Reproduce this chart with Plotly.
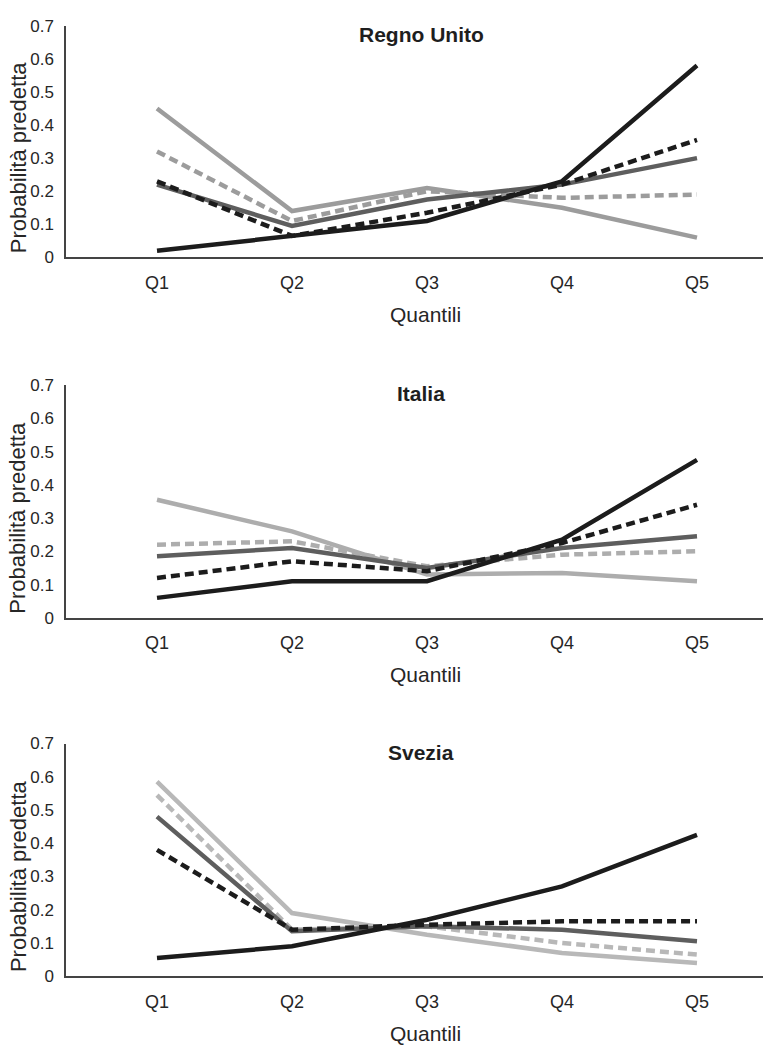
import plotly.graph_objects as go

# Quantile categories shared by all panels
quantili = ["Q1", "Q2", "Q3", "Q4", "Q5"]
y_ticks = [0, 0.1, 0.2, 0.3, 0.4, 0.5, 0.6, 0.7]
y_tick_text = ["0", "0.1", "0.2", "0.3", "0.4", "0.5", "0.6", "0.7"]

paesi = ["Regno Unito", "Italia", "Svezia"]

# Predicted probabilities, five series per country
regno_unito_a = [0.45, 0.14, 0.21, 0.15, 0.06]
regno_unito_b = [0.32, 0.11, 0.20, 0.18, 0.19]
regno_unito_c = [0.22, 0.095, 0.175, 0.22, 0.30]
regno_unito_d = [0.23, 0.065, 0.135, 0.22, 0.355]
regno_unito_e = [0.02, 0.065, 0.11, 0.23, 0.58]

italia_a = [0.355, 0.26, 0.13, 0.135, 0.11]
italia_b = [0.22, 0.23, 0.155, 0.19, 0.20]
italia_c = [0.185, 0.21, 0.15, 0.21, 0.245]
italia_d = [0.12, 0.17, 0.14, 0.225, 0.34]
italia_e = [0.06, 0.11, 0.11, 0.235, 0.475]

svezia_a = [0.585, 0.19, 0.125, 0.07, 0.04]
svezia_b = [0.545, 0.14, 0.15, 0.10, 0.065]
svezia_c = [0.48, 0.135, 0.15, 0.14, 0.105]
svezia_d = [0.38, 0.14, 0.155, 0.165, 0.165]
svezia_e = [0.055, 0.09, 0.17, 0.27, 0.425]

dati = [
    [regno_unito_a, regno_unito_b, regno_unito_c, regno_unito_d, regno_unito_e],
    [italia_a, italia_b, italia_c, italia_d, italia_e],
    [svezia_a, svezia_b, svezia_c, svezia_d, svezia_e],
]

W, H = 763, 1053
FONT = "Liberation Sans, Arial, sans-serif"

# Pixel geometry of each panel: (y of 0.7, y of 0)
pannelli_px = [(17, 253), (383, 620), (748, 985)]
x_left_px = 66
x_q1_px, x_step_px = 157, 135

chiari = ["#9c9c9c", "#adadad", "#b8b8b8"]
trattini = ["solid", "9px,5px", "solid", "9px,5px", "solid"]

fig = go.Figure()
x_idx = list(range(len(quantili)))

for p, (serie, (top, bot)) in enumerate(zip(dati, pannelli_px)):
    sfx = "" if p == 0 else str(p + 1)
    colori = [chiari[p], chiari[p], "#5e5e5e", "#1c1c1c", "#1c1c1c"]
    for s, valori in enumerate(serie):
        fig.add_trace(go.Scatter(
            x=x_idx, y=valori, mode="lines",
            line=dict(color=colori[s], width=4.5, dash=trattini[s]),
            xaxis="x" + sfx, yaxis="y" + sfx, showlegend=False,
            hoverinfo="skip",
        ))

    dom_y = [1 - bot / H, 1 - top / H]
    x_rng = [(x_left_px - x_q1_px) / x_step_px, (W - x_q1_px) / x_step_px]
    fig.layout["xaxis" + sfx] = dict(
        domain=[x_left_px / W, 1], range=x_rng, anchor="y" + sfx,
        tickvals=x_idx, ticktext=quantili, showgrid=False, zeroline=False,
        showline=True, linecolor="#444444", linewidth=1.5, ticks="",
        tickfont=dict(family=FONT, size=18, color="#262626"),
        ticklabelstandoff=8, fixedrange=True,
    )
    fig.layout["yaxis" + sfx] = dict(
        domain=dom_y, range=[0, 0.7], anchor="x" + sfx,
        tickvals=y_ticks, ticktext=y_tick_text, showgrid=False, zeroline=False,
        showline=True, linecolor="#444444", linewidth=1.5, ticks="",
        tickfont=dict(family=FONT, size=17, color="#262626"),
        ticklabelstandoff=7, fixedrange=True,
    )

    # Panel title
    fig.add_annotation(
        text="<b>" + paesi[p] + "</b>", x=421 / W, y=1 - (top + 9) / H,
        xref="paper", yref="paper", showarrow=False,
        xanchor="center", yanchor="middle",
        font=dict(family=FONT, size=21, color="#1e1e1e"),
    )
    # X-axis title
    fig.add_annotation(
        text="Quantili", x=425 / W, y=1 - (bot + 58) / H,
        xref="paper", yref="paper", showarrow=False,
        xanchor="center", yanchor="middle",
        font=dict(family=FONT, size=21, color="#262626"),
    )
    # Y-axis title
    fig.add_annotation(
        text="Probabilità predetta", x=18 / W, y=1 - (bot - 102) / H,
        xref="paper", yref="paper", showarrow=False, textangle=-90,
        xanchor="center", yanchor="middle",
        font=dict(family=FONT, size=22, color="#262626"),
    )

fig.update_layout(
    width=W, height=H, margin=dict(l=0, r=0, t=0, b=0),
    paper_bgcolor="white", plot_bgcolor="white",
)

fig.write_html("out.html")
